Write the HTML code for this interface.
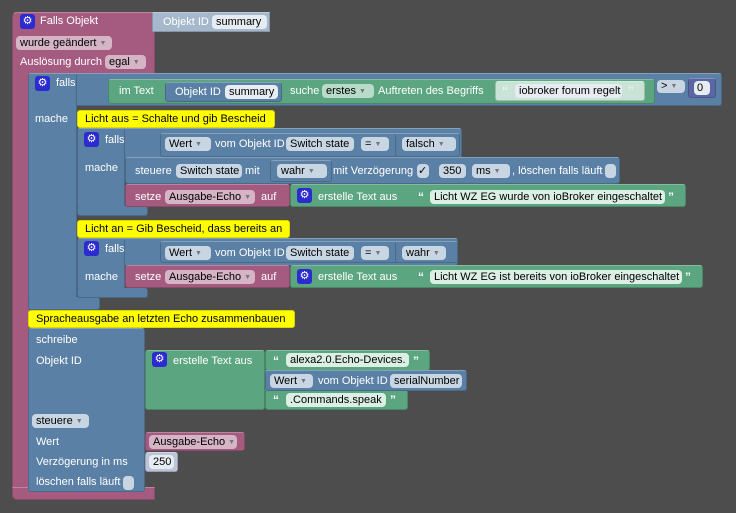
<!DOCTYPE html>
<html><head><meta charset="utf-8"><style>
html,body{margin:0;padding:0}
body{width:736px;height:513px;background:#4d4d4d;position:relative;overflow:hidden;font-family:"Liberation Sans",sans-serif}
.b{position:absolute;box-sizing:border-box;border:1px solid rgba(0,0,0,.18);border-top-color:rgba(255,255,255,.25);border-radius:3px}
.pk{background:#a55b80}.bl{background:#5b80a5}.gr{background:#5ba580}
.t{position:absolute;color:#fff;font-size:11px;line-height:14px;white-space:nowrap}
.f{position:absolute;box-sizing:border-box;border-radius:4px;color:#000;font-size:11px;line-height:14px;height:14px;padding:0 4px;white-space:nowrap}
.fb{background:#c8d6e3}.fp{background:#d5b4c6}.fw{background:#e6ecf1}.fg{background:#dcefe5}.fgd{background:#b8dcc9}
.ar{color:#777;font-size:7px;margin-left:3px;vertical-align:1px}
.g{position:absolute;width:15px;height:15px;background:#2b2bd0;border-radius:3px;color:#fff;font-size:11px;line-height:15px;text-align:center}
.c{position:absolute;box-sizing:border-box;background:#ffff00;border:1px solid #e0d400;border-radius:3px;color:#000;font-size:11px;line-height:16px;padding-left:7px;white-space:nowrap}
.q{position:absolute;color:#fff;font-size:12px;font-weight:bold;line-height:14px}
</style></head><body>

<!-- Pink trigger block -->
<div class="b pk" style="left:12px;top:12px;width:143px;height:62px;border-radius:5px 0 0 0"></div>
<div class="b pk" style="left:12px;top:12px;width:17px;height:488px;border-radius:5px 0 0 5px;border-right:none"></div>
<div class="b pk" style="left:12px;top:487px;width:143px;height:13px;border-radius:0 0 0 5px"></div>
<div class="g" style="left:20px;top:14px">⚙</div>
<div class="t" style="left:40px;top:14px">Falls Objekt</div>
<div class="b" style="left:152px;top:12px;width:118px;height:20px;background:#a5b8cc;border-radius:0"></div>
<div class="t" style="left:163px;top:15px">Objekt ID</div>
<div class="f fw" style="left:212px;top:15px;width:55px">summary</div>
<div class="f fp" style="left:16px;top:36px;width:96px">wurde geändert<span class="ar">▼</span></div>
<div class="t" style="left:20px;top:55px">Auslösung durch</div>
<div class="f fp" style="left:105px;top:55px;width:41px">egal<span class="ar">▼</span></div>

<!-- Main falls block -->
<div class="b bl" style="left:28px;top:73px;width:694px;height:33px"></div>
<div class="b bl" style="left:28px;top:73px;width:49px;height:237px;border-bottom:none"></div>
<div class="b bl" style="left:28px;top:297px;width:72px;height:13px;border-top:none"></div>
<div class="g" style="left:35px;top:76px">⚙</div>
<div class="t" style="left:56px;top:76px">falls</div>
<div class="b gr" style="left:108px;top:79px;width:547px;height:25px"></div>
<div class="t" style="left:119px;top:84px">im Text</div>
<div class="b bl" style="left:165px;top:82px;width:117px;height:20px"></div>
<div class="t" style="left:175px;top:85px">Objekt ID</div>
<div class="f fw" style="left:225px;top:85px;width:53px">summary</div>
<div class="t" style="left:290px;top:84px">suche</div>
<div class="f fgd" style="left:322px;top:84px;width:52px">erstes<span class="ar">▼</span></div>
<div class="t" style="left:378px;top:84px">Auftreten des Begriffs</div>
<div class="b" style="left:495px;top:81px;width:150px;height:20px;background:#c9e4d6"></div>
<div class="q" style="left:502px;top:84px;color:#eaf5ef">“</div>
<div class="f fw" style="left:515px;top:84px;width:107px">iobroker forum regelt</div>
<div class="q" style="left:628px;top:84px;color:#eaf5ef">”</div>
<div class="f fb" style="left:657px;top:80px;width:28px;height:13px;line-height:13px">&gt;<span class="ar">▼</span></div>
<div class="b" style="left:688px;top:78px;width:28px;height:20px;background:#5b67a5"></div>
<div class="f fw" style="left:694px;top:81px;width:16px;padding:0 3px">0</div>
<div class="t" style="left:35px;top:112px">mache</div>

<!-- Comment 1 -->
<div class="c" style="left:77px;top:110px;width:198px;height:18px">Licht aus = Schalte und gib Bescheid</div>
<!-- Inner falls 1 -->
<div class="b bl" style="left:77px;top:128px;width:385px;height:32px"></div>
<div class="b bl" style="left:77px;top:128px;width:48px;height:82px;border-bottom:none"></div>
<div class="b bl" style="left:77px;top:206px;width:71px;height:10px;border-top:none"></div>
<div class="g" style="left:84px;top:132px">⚙</div>
<div class="t" style="left:105px;top:133px">falls</div>
<div class="b bl" style="left:160px;top:133px;width:300px;height:24px"></div>
<div class="f fb" style="left:165px;top:137px;width:46px">Wert<span class="ar">▼</span></div>
<div class="t" style="left:215px;top:137px">vom Objekt ID</div>
<div class="f fb" style="left:286px;top:137px;width:68px">Switch state</div>
<div class="f fb" style="left:361px;top:137px;width:28px">=<span class="ar">▼</span></div>
<div class="b bl" style="left:395px;top:133px;width:65px;height:24px"></div>
<div class="f fb" style="left:402px;top:137px;width:54px">falsch<span class="ar">▼</span></div>
<div class="t" style="left:85px;top:161px">mache</div>
<div class="b bl" style="left:125px;top:157px;width:495px;height:27px"></div>
<div class="t" style="left:135px;top:164px">steuere</div>
<div class="f fb" style="left:176px;top:164px;width:66px">Switch state</div>
<div class="t" style="left:245px;top:164px">mit</div>
<div class="b bl" style="left:270px;top:160px;width:62px;height:22px"></div>
<div class="f fb" style="left:277px;top:164px;width:50px">wahr<span class="ar">▼</span></div>
<div class="t" style="left:333px;top:164px">mit Verzögerung</div>
<div class="f fb" style="left:417px;top:164px;width:12px;padding:0 1px">✓</div>
<div class="f fb" style="left:439px;top:164px;width:27px">350</div>
<div class="f fb" style="left:472px;top:164px;width:38px">ms<span class="ar">▼</span></div>
<div class="t" style="left:512px;top:164px">, löschen falls läuft</div>
<div class="f fb" style="left:605px;top:164px;width:11px"></div>
<div class="b pk" style="left:125px;top:184px;width:165px;height:23px"></div>
<div class="t" style="left:135px;top:190px">setze</div>
<div class="f fp" style="left:165px;top:190px;width:90px">Ausgabe-Echo<span class="ar">▼</span></div>
<div class="t" style="left:261px;top:190px">auf</div>
<div class="b gr" style="left:290px;top:184px;width:396px;height:23px"></div>
<div class="g" style="left:297px;top:188px">⚙</div>
<div class="t" style="left:318px;top:190px">erstelle Text aus</div>
<div class="q" style="left:418px;top:190px">“</div>
<div class="f fg" style="left:430px;top:190px;width:235px">Licht WZ EG wurde von ioBroker eingeschaltet</div>
<div class="q" style="left:668px;top:190px">”</div>

<!-- Comment 2 -->
<div class="c" style="left:77px;top:220px;width:213px;height:18px">Licht an = Gib Bescheid, dass bereits an</div>
<div class="b bl" style="left:77px;top:238px;width:381px;height:28px"></div>
<div class="b bl" style="left:77px;top:238px;width:48px;height:56px;border-bottom:none"></div>
<div class="b bl" style="left:77px;top:288px;width:71px;height:10px;border-top:none"></div>
<div class="g" style="left:84px;top:241px">⚙</div>
<div class="t" style="left:105px;top:242px">falls</div>
<div class="b bl" style="left:160px;top:241px;width:298px;height:22px"></div>
<div class="f fb" style="left:165px;top:246px;width:46px">Wert<span class="ar">▼</span></div>
<div class="t" style="left:215px;top:246px">vom Objekt ID</div>
<div class="f fb" style="left:286px;top:246px;width:68px">Switch state</div>
<div class="f fb" style="left:361px;top:246px;width:28px">=<span class="ar">▼</span></div>
<div class="b bl" style="left:395px;top:241px;width:63px;height:22px"></div>
<div class="f fb" style="left:402px;top:246px;width:44px">wahr<span class="ar">▼</span></div>
<div class="t" style="left:85px;top:270px">mache</div>
<div class="b pk" style="left:125px;top:265px;width:165px;height:23px"></div>
<div class="t" style="left:135px;top:270px">setze</div>
<div class="f fp" style="left:165px;top:270px;width:90px">Ausgabe-Echo<span class="ar">▼</span></div>
<div class="t" style="left:261px;top:270px">auf</div>
<div class="b gr" style="left:290px;top:265px;width:413px;height:23px"></div>
<div class="g" style="left:297px;top:269px">⚙</div>
<div class="t" style="left:318px;top:270px">erstelle Text aus</div>
<div class="q" style="left:418px;top:270px">“</div>
<div class="f fg" style="left:430px;top:270px;width:252px">Licht WZ EG ist bereits von ioBroker eingeschaltet</div>
<div class="q" style="left:685px;top:270px">”</div>

<!-- Comment 3 + schreibe -->
<div class="c" style="left:28px;top:310px;width:267px;height:18px">Spracheausgabe an letzten Echo zusammenbauen</div>
<div class="b bl" style="left:28px;top:328px;width:117px;height:164px"></div>
<div class="t" style="left:36px;top:333px">schreibe</div>
<div class="t" style="left:36px;top:354px">Objekt ID</div>
<div class="f fb" style="left:32px;top:414px;width:57px">steuere<span class="ar">▼</span></div>
<div class="t" style="left:36px;top:435px">Wert</div>
<div class="t" style="left:36px;top:455px">Verzögerung in ms</div>
<div class="t" style="left:36px;top:475px">löschen falls läuft</div>
<div class="f fb" style="left:123px;top:476px;width:11px"></div>

<div class="b gr" style="left:145px;top:350px;width:120px;height:60px"></div>
<div class="b gr" style="left:265px;top:350px;width:165px;height:21px"></div>
<div class="b gr" style="left:265px;top:390px;width:143px;height:20px"></div>
<div class="b gr" style="left:265px;top:370px;width:12px;height:21px;border:none;border-radius:0"></div>
<div class="b bl" style="left:265px;top:370px;width:202px;height:21px"></div>
<div class="g" style="left:152px;top:352px">⚙</div>
<div class="t" style="left:173px;top:354px">erstelle Text aus</div>
<div class="q" style="left:273px;top:354px">“</div>
<div class="f fg" style="left:286px;top:353px;width:123px">alexa2.0.Echo-Devices.</div>
<div class="q" style="left:413px;top:354px">”</div>
<div class="f fb" style="left:270px;top:374px;width:43px">Wert<span class="ar">▼</span></div>
<div class="t" style="left:318px;top:374px">vom Objekt ID</div>
<div class="f fb" style="left:390px;top:374px;width:72px">serialNumber</div>
<div class="q" style="left:273px;top:393px">“</div>
<div class="f fg" style="left:286px;top:393px;width:100px">.Commands.speak</div>
<div class="q" style="left:390px;top:393px">”</div>

<div class="b pk" style="left:145px;top:432px;width:100px;height:19px"></div>
<div class="f fp" style="left:149px;top:435px;width:88px">Ausgabe-Echo<span class="ar">▼</span></div>
<div class="b" style="left:145px;top:452px;width:33px;height:20px;background:#bcc4da"></div>
<div class="f fw" style="left:149px;top:455px;width:25px">250</div>
</body></html>
